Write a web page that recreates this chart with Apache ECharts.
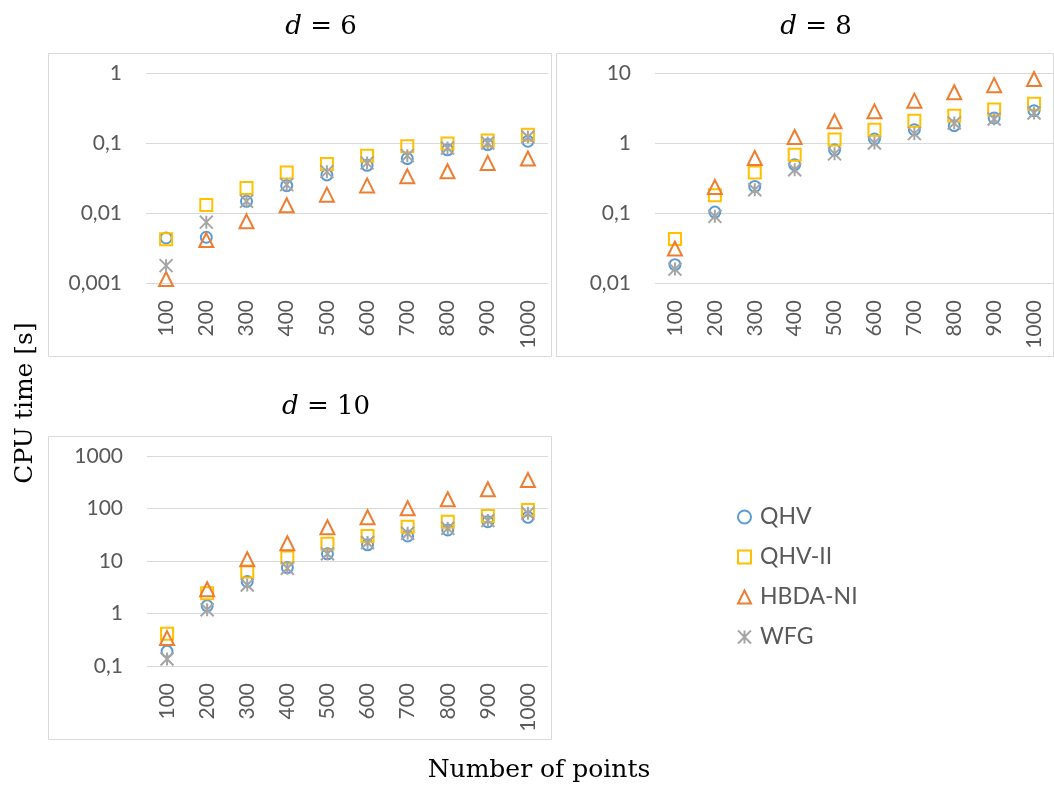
<!DOCTYPE html>
<html>
<head>
<meta charset="utf-8">
<script src="https://cdn.jsdelivr.net/npm/echarts@6/dist/echarts.min.js"></script>
<style>
  html, body { margin: 0; padding: 0; background: #fff; }
  #chart { width: 1054px; height: 793px; }
</style>
</head>
<body>
<div id="chart"></div>
<script>
var categories = ['100', '200', '300', '400', '500', '600', '700', '800', '900', '1000']
var methods = ['QHV', 'QHV-II', 'HBDA-NI', 'WFG']

// d = 6
var d6_QHV = [0.0044, 0.0045, 0.0147, 0.0246, 0.035, 0.048, 0.06, 0.08, 0.095, 0.106]
var d6_QHVII = [0.0042, 0.013, 0.0228, 0.038, 0.05, 0.066, 0.09, 0.098, 0.109, 0.131]
var d6_HBDA = [0.00114, 0.0041, 0.0076, 0.0129, 0.0183, 0.0248, 0.0334, 0.0394, 0.052, 0.06]
var d6_WFG = [0.00177, 0.0074, 0.0147, 0.0254, 0.039, 0.052, 0.066, 0.085, 0.1, 0.122]

// d = 8
var d8_QHV = [0.0183, 0.103, 0.24, 0.49, 0.8, 1.14, 1.55, 1.77, 2.28, 2.9]
var d8_QHVII = [0.0425, 0.179, 0.38, 0.68, 1.12, 1.55, 2.08, 2.46, 3.0, 3.65]
var d8_HBDA = [0.031, 0.235, 0.61, 1.22, 2.04, 2.83, 4.03, 5.3, 6.7, 8.2]
var d8_WFG = [0.0158, 0.0895, 0.215, 0.415, 0.7, 1.0, 1.36, 1.93, 2.2, 2.68]

// d = 10
var d10_QHV = [0.19, 1.4, 4.07, 7.5, 13.7, 20.3, 30, 39, 56, 68]
var d10_QHVII = [0.41, 2.44, 6.3, 11.7, 21.2, 30, 45, 56, 72, 94]
var d10_HBDA = [0.34, 2.9, 10.8, 21.8, 44, 68, 101, 150, 232, 350]
var d10_WFG = [0.136, 1.18, 3.5, 7.3, 13.7, 22.5, 33.8, 42, 59, 81]

var panels = [
  { title: '6', min: 0.001, max: 1, data: [d6_QHV, d6_QHVII, d6_HBDA, d6_WFG] },
  { title: '8', min: 0.01, max: 10, data: [d8_QHV, d8_QHVII, d8_HBDA, d8_WFG] },
  { title: '10', min: 0.1, max: 1000, data: [d10_QHV, d10_QHVII, d10_HBDA, d10_WFG] }
]

var colors = ['#5B9BD5', '#FFC000', '#ED7D31', '#A5A5A5']
var star = 'path://M0,0L10,10M0,10L10,0M5,0L5,10'
var symbols = ['circle', 'rect', 'triangle', star]
var sizes = [11, 12, 14, 13]
var labelColor = '#595959'
var gridColor = '#D9D9D9'

var grids = [
  { left: 146, top: 73, width: 402, height: 210 },
  { left: 655, top: 73, width: 401, height: 210 },
  { left: 147, top: 456, width: 401, height: 210 }
]

function fmt(v) {
  return String(+v.toPrecision(6)).replace('.', ',')
}

var xAxes = []
var yAxes = []
var series = []
panels.forEach(function(p, i) {
  xAxes.push({
    type: 'category',
    gridIndex: i,
    data: categories,
    axisLine: { show: false },
    axisTick: { show: false },
    splitLine: { show: false },
    axisLabel: {
      rotate: 90,
      margin: 17,
      color: labelColor,
      fontFamily: 'Lato',
      fontSize: 21
    }
  })
  yAxes.push({
    type: 'log',
    logBase: 10,
    gridIndex: i,
    min: p.min,
    max: p.max,
    axisLine: { show: false },
    axisTick: { show: false },
    splitLine: { lineStyle: { color: gridColor, width: 1 } },
    axisLabel: {
      margin: 24,
      color: labelColor,
      fontFamily: 'Lato',
      fontSize: 21,
      formatter: fmt
    }
  })
  methods.forEach(function(m, k) {
    series.push({
      type: 'scatter',
      name: m,
      xAxisIndex: i,
      yAxisIndex: i,
      symbol: symbols[k],
      symbolSize: sizes[k],
      itemStyle: { color: 'transparent', borderColor: colors[k], borderWidth: 2, opacity: 1 },
      z: 2 + k,
      data: p.data[k]
    })
  })
})

var titleStyle = {
  font: '26px "DejaVu Serif"',
  fill: '#000',
  align: 'center',
  verticalAlign: 'middle',
  rich: {
    i: { fontStyle: 'italic', fontFamily: 'DejaVu Serif', fontSize: 26 },
    n: { fontFamily: 'DejaVu Serif', fontSize: 26 }
  }
}

function titleText(x, y, d) {
  return {
    type: 'text',
    x: x,
    y: y,
    style: Object.assign({}, titleStyle, { text: '{i|d}{n| = ' + d + '}' })
  }
}

var chart = echarts.init(document.getElementById('chart'))
chart.setOption({
  animation: false,
  backgroundColor: '#fff',
  grid: grids,
  xAxis: xAxes,
  yAxis: yAxes,
  series: series,
  legend: {
    orient: 'vertical',
    left: 732,
    top: 500,
    itemWidth: 13,
    itemHeight: 13,
    itemGap: 16,
    textStyle: {
      color: labelColor,
      fontFamily: 'Lato',
      fontSize: 23,
      lineHeight: 24,
      padding: [0, 0, 0, 4]
    },
    data: methods.map(function(m, k) {
      return {
        name: m,
        icon: symbols[k],
        itemStyle: { color: 'transparent', borderColor: colors[k], borderWidth: 2 }
      }
    })
  },
  graphic: [
    { type: 'rect', shape: { x: 48.5, y: 53.5, width: 503, height: 303 }, style: { fill: 'none', stroke: gridColor, lineWidth: 1 }, silent: true },
    { type: 'rect', shape: { x: 556.5, y: 53.5, width: 497, height: 303 }, style: { fill: 'none', stroke: gridColor, lineWidth: 1 }, silent: true },
    { type: 'rect', shape: { x: 48.5, y: 436.5, width: 503, height: 303 }, style: { fill: 'none', stroke: gridColor, lineWidth: 1 }, silent: true },
    titleText(321, 27, '6'),
    titleText(816, 27, '8'),
    titleText(326, 407, '10'),
    {
      type: 'text',
      x: 25,
      y: 403,
      rotation: Math.PI / 2,
      style: {
        text: 'CPU time [s]',
        font: '25px "DejaVu Serif"',
        fill: '#000',
        align: 'center',
        verticalAlign: 'middle'
      }
    },
    {
      type: 'text',
      x: 539,
      y: 770,
      style: {
        text: 'Number of points',
        font: '25px "DejaVu Serif"',
        fill: '#000',
        align: 'center',
        verticalAlign: 'middle'
      }
    }
  ]
})
</script>
</body>
</html>
